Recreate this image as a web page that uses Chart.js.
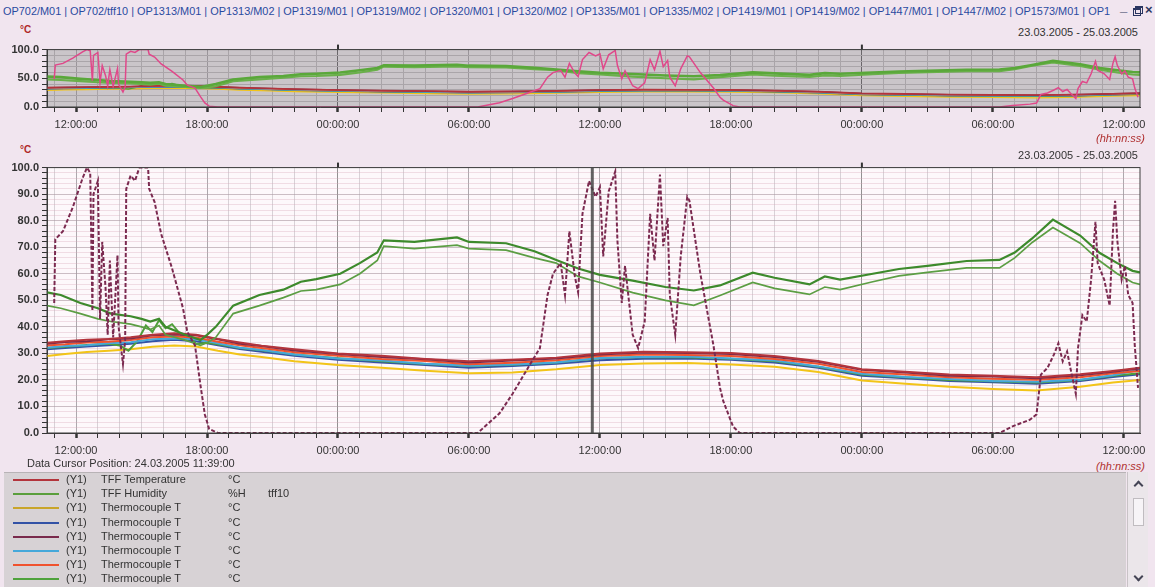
<!DOCTYPE html>
<html>
<head>
<meta charset="utf-8">
<script src="https://cdn.jsdelivr.net/npm/chart.js@4.4.1/dist/chart.umd.min.js"></script>
<style>
body { margin:0; width:1155px; height:587px; overflow:hidden; background:#f1e5ef; font-family:"Liberation Sans", Arial, sans-serif; position:relative; }
#tabs { position:absolute; left:3px; top:5px; font-size:10.5px; color:#2a4aa0; white-space:nowrap; transform-origin:0 0; }
#win { position:absolute; left:1116px; top:2px; width:38px; height:16px; color:#2a3560; font-size:13px; font-weight:bold; }
#win .min { position:absolute; left:4px; top:-3px; }
#win .rs1 { position:absolute; left:17px; top:6px; width:6px; height:5px; border:1px solid #2a3560; border-top-width:2px; }
#win .rs2 { position:absolute; left:19px; top:4px; width:6px; height:5px; border:1px solid #2a3560; border-top-width:2px; }
#win .x { position:absolute; left:29px; top:0px; }
.unit { position:absolute; left:20px; color:#b02828; font-size:10px; font-weight:bold; }
.range { position:absolute; left:1018px; width:120px; text-align:right; font-size:11px; color:#333; }
.hh { position:absolute; left:1060px; width:85px; text-align:right; font-size:11px; color:#b03030; font-style:italic; }
#cursor { position:absolute; left:27px; top:457px; font-size:11px; color:#333; }
#overview { position:absolute; left:0; top:40px; }
#main { position:absolute; left:0; top:158px; }
#legend { position:absolute; left:4px; top:472px; width:1122px; height:115px; background:#d7d2d5; border-top:1px solid #b8b3b6; }
.row { position:absolute; left:0; width:400px; height:14px; font-size:11px; color:#333; }
.row .ln { position:absolute; left:9px; top:6px; width:46px; height:2px; }
.row span { position:absolute; top:0; }
#scroll { position:absolute; left:1127px; top:472px; width:20px; height:115px; background:#ebe6ea; border-left:1px solid #c8c3c6; }
#scroll .thumb { position:absolute; left:5px; top:26px; width:9px; height:26px; background:#f7f4f7; border:1px solid #c0bcc0; }
#scroll .up, #scroll .dn { position:absolute; left:7px; width:5px; height:5px; border-left:2px solid #445; border-top:2px solid #445; }
#scroll .up { top:10px; transform:rotate(45deg); }
#scroll .dn { top:101px; transform:rotate(225deg); }
</style>
</head>
<body>
<div id="tabs"></div>
<div id="win"><span class="min">_</span><div class="rs2"></div><div class="rs1"></div><span class="x">×</span></div>

<div class="unit" style="top:24px">°C</div>
<div class="range" style="top:26px">23.03.2005 - 25.03.2005</div>
<canvas id="overview" width="1155" height="96"></canvas>
<div class="hh" style="top:132px">(hh:nn:ss)</div>

<div class="unit" style="top:144px">°C</div>
<div class="range" style="top:149px">23.03.2005 - 25.03.2005</div>
<canvas id="main" width="1155" height="300"></canvas>
<div id="cursor">Data Cursor Position: 24.03.2005 11:39:00</div>
<div class="hh" style="top:460px">(hh:nn:ss)</div>

<div id="legend"></div>
<div id="scroll"><div class="up"></div><div class="thumb"></div><div class="dn"></div></div>

<script>
// hours counted from 23.03.2005 00:00
var xMin = 10.67, xMax = 60.74;
var cursorHour = 35.65; // 24.03.2005 11:39:00

var tabNames = ['OP702/M01', 'OP702/tff10', 'OP1313/M01', 'OP1313/M02', 'OP1319/M01', 'OP1319/M02', 'OP1320/M01', 'OP1320/M02',
    'OP1335/M01', 'OP1335/M02', 'OP1419/M01', 'OP1419/M02', 'OP1447/M01', 'OP1447/M02', 'OP1573/M01', 'OP1'];

var xTickHours = [12, 18, 24, 30, 36, 42, 48, 54, 60];
var xTickLabels = ['12:00:00', '18:00:00', '00:00:00', '06:00:00', '12:00:00', '18:00:00', '00:00:00', '06:00:00', '12:00:00'];
var mainYTicks = [0, 10, 20, 30, 40, 50, 60, 70, 80, 90, 100];
var overviewYTicks = [0, 50, 100];

// temperature series share these times
var tTemp = [10.67, 11.5, 12.5, 13.5, 14.5, 15.5, 16.5, 17.5, 18.5, 19.5, 20.5, 22, 24, 26, 28, 30, 32, 34, 36, 38, 40, 42, 44, 46, 48, 50, 52, 54, 56, 58, 59.5, 60.74];
var tffTemperature = [34.0, 34.6, 35.1, 35.4, 36.1, 37.0, 37.6, 37.0, 35.4, 34.1, 32.9, 31.6, 30.0, 29.1, 27.9, 27.0, 27.6, 28.4, 30.0, 30.6, 30.4, 30.1, 29.0, 27.1, 24.0, 23.1, 22.0, 21.6, 21.0, 22.1, 23.4, 24.6];
var tcYellow = [29.0, 29.8, 30.5, 31.0, 31.6, 32.5, 33.0, 32.6, 31.0, 29.6, 28.6, 27.0, 25.6, 24.6, 23.5, 22.5, 22.8, 24.0, 25.6, 26.2, 26.4, 25.8, 25.0, 23.0, 19.8, 18.6, 17.4, 16.6, 16.0, 17.4, 19.0, 20.0];
var tcBlue = [31.6, 32.0, 32.6, 33.1, 33.6, 34.6, 35.1, 34.6, 33.1, 31.6, 30.6, 29.1, 27.6, 26.6, 25.6, 24.6, 25.2, 26.1, 27.4, 28.0, 28.1, 27.6, 26.6, 24.6, 21.6, 20.6, 19.6, 19.1, 18.6, 19.6, 21.1, 22.1];
var tcMaroon = [33.6, 34.3, 34.6, 35.3, 35.6, 36.8, 37.1, 36.8, 35.3, 33.6, 32.8, 31.1, 29.8, 28.6, 27.8, 26.6, 27.3, 28.1, 29.6, 30.3, 30.1, 29.8, 28.6, 26.8, 23.8, 22.8, 21.6, 21.3, 20.6, 21.8, 23.1, 24.3];
var tcLightBlue = [32.1, 32.8, 33.1, 33.8, 34.2, 35.3, 35.6, 35.3, 33.8, 32.1, 31.3, 29.6, 28.1, 27.3, 26.1, 25.3, 25.8, 26.6, 28.3, 28.6, 28.8, 28.1, 27.3, 25.1, 22.3, 21.1, 20.3, 19.6, 19.3, 20.1, 21.8, 23.8];
var tcOrange = [33.0, 33.4, 34.1, 34.4, 35.0, 36.1, 36.4, 36.0, 34.4, 33.1, 32.0, 30.4, 29.1, 27.9, 27.1, 25.9, 26.5, 27.4, 29.0, 29.6, 29.4, 29.0, 27.9, 26.1, 23.0, 22.0, 21.0, 20.4, 20.1, 21.0, 22.5, 23.4];

var tGreen = [10.67, 11.5, 12.5, 13.5, 14.0, 14.4, 14.8, 15.2, 15.5, 15.8, 16.1, 16.4, 16.8, 17.2, 17.5, 18.0, 18.5, 19.5, 20.5, 22, 24, 26, 28, 30, 32, 34, 36, 38, 40, 42, 44, 46, 48, 50, 52, 54, 56, 58, 59.5, 60.74];
var tcGreen = [32.0, 32.5, 33.2, 33.6, 33.0, 31.0, 34.5, 40.5, 38.0, 42.5, 39.5, 41.0, 37.0, 36.5, 33.5, 34.0, 33.4, 32.0, 31.2, 29.6, 28.2, 27.0, 26.0, 25.2, 25.7, 26.6, 28.2, 28.6, 28.5, 28.0, 27.0, 25.0, 22.0, 21.0, 20.0, 19.5, 19.0, 20.0, 21.6, 22.5];

// humidity (two sensors)
var tHum = [10.67, 11.3, 12.2, 13.0, 13.6, 14.5, 15.0, 15.4, 15.8, 16.1, 17.0, 17.7, 18.0, 18.4, 19.2, 20.4, 21.5, 22.3, 23.0, 24.1, 25.0, 25.8, 26.1, 27.5, 29.45, 30.0, 31.7, 33.0, 34.0, 35.0, 36.0, 37.5, 39.0, 40.3, 41.5, 43.0, 44.0, 45.6, 46.3, 47.0, 48.5, 49.7, 51.0, 52.8, 54.3, 55.0, 55.8, 56.75, 58.0, 58.9, 59.7, 60.4, 60.74];
var humidityA = [53, 52, 49, 47, 45, 44, 43, 42, 43, 40, 37, 35, 37, 40, 48, 52, 54, 57, 58, 60, 64, 68, 72.6, 72, 73.7, 72, 71.5, 68.5, 65.2, 62, 59.6, 57.4, 55, 53.7, 55.6, 60.4, 58.5, 56, 59, 57.8, 60, 61.8, 63, 64.8, 65.2, 68, 73.3, 80.4, 74.4, 67.8, 64, 61.1, 60.5];
var humidityB = [48, 47, 45, 43, 42, 41, 40, 39, 40.5, 37, 35, 33, 34, 36, 45, 48, 51, 53.5, 54, 56, 60, 65, 70.4, 69.5, 70.8, 69.5, 68.9, 66, 64, 59, 56.7, 52.9, 50, 48.1, 51.8, 56.7, 54.5, 52.2, 55, 54, 57, 59.2, 60.5, 62.2, 62.2, 66, 71.8, 77.4, 71.5, 64.8, 60, 56.7, 56];

// dashed series (0..100, spiky in daytime)
var tDash = [11.0, 11.05, 11.4, 11.85, 12.3, 12.5, 12.65, 12.75, 12.8, 13.0, 13.1, 13.2, 13.35, 13.45, 13.55, 13.7, 13.9, 13.95, 14.15, 14.25, 14.3, 14.5, 14.7, 14.9, 15.3, 15.35, 15.6, 15.9, 16.4, 16.9, 17.1, 17.45, 17.7, 17.9, 18.1, 18.5,
    30.4, 31.4, 32.0, 32.7, 33.25, 33.6, 33.85, 34.2, 34.4, 34.6, 34.85, 35.0, 35.2, 35.5, 35.8, 36.0, 36.15, 36.4, 36.7, 36.8, 37.0, 37.15, 37.5, 37.75, 38.05, 38.3, 38.5, 38.75, 38.9, 39.1, 39.2, 39.45, 39.7, 40.0, 40.1, 40.6, 41.2, 41.5, 41.65, 42.1, 42.4,
    54.3, 54.9, 55.7, 56.0, 56.2, 56.5, 56.8, 57.0, 57.2, 57.4, 57.55, 57.8, 57.9, 58.1, 58.3, 58.5, 58.7, 58.8, 59.1, 59.35, 59.5, 59.6, 59.7, 59.9, 60.05, 60.2, 60.4, 60.5, 60.65];
var dashValues = [49, 73, 76, 85, 96, 100, 98, 46, 90, 95, 43, 72, 55, 37, 65, 36, 67, 40, 26, 35, 92, 97, 95, 100, 100, 92, 87, 75, 62, 47, 38, 33, 18, 7, 1.5, 0,
    0, 7.4, 14.8, 24.5, 32, 52, 60, 64, 52, 76, 59, 53, 82.6, 95, 89, 92.6, 66.5, 91, 98.5, 72.6, 49, 63, 37, 32, 42, 82.6, 65, 97.4, 70.4, 81, 52, 37, 66.5, 89, 87.5, 60, 33, 17, 12, 2.4, 0,
    0, 2.5, 5, 7, 22, 24.5, 29.6, 33.8, 27, 30.7, 24.5, 14.8, 32, 44.4, 42, 57.8, 79.6, 64, 57.8, 48, 76, 87.5, 72.6, 57.8, 63, 52, 49, 33, 17];

var legendNames = ['TFF Temperature', 'TFF Humidity', 'Thermocouple T', 'Thermocouple T', 'Thermocouple T', 'Thermocouple T', 'Thermocouple T', 'Thermocouple T'];
var legendUnits = ['°C', '%H', '°C', '°C', '°C', '°C', '°C', '°C'];
var legendExtra = ['', 'tff10', '', '', '', '', '', ''];
var legendColors = ['#b3343c', '#5a9e3c', '#c9a52a', '#3352a6', '#7a2a4c', '#45a8da', '#f0522e', '#4fa23c'];

// tabs
var tabs = document.getElementById('tabs');
tabs.textContent = tabNames.join(' | ');
var tw = tabs.getBoundingClientRect().width;
tabs.style.transform = 'scaleX(' + (1107 / tw) + ')';

// legend rows
var legend = document.getElementById('legend');
for (var i = 0; i < legendNames.length; i++) {
    var row = document.createElement('div');
    row.className = 'row';
    row.style.top = (i * 14.2) + 'px';
    row.innerHTML = '<div class="ln" style="background:' + legendColors[i] + '"></div>' +
        '<span style="left:62px">(Y1)</span>' +
        '<span style="left:97px">' + legendNames[i] + '</span>' +
        '<span style="left:224px">' + legendUnits[i] + '</span>' +
        '<span style="left:264px">' + legendExtra[i] + '</span>';
    legend.appendChild(row);
}

function pts(t, v) {
    return t.map(function (x, i) { return { x: x, y: v[i] }; });
}

Chart.defaults.font.family = '"Liberation Sans", Arial, sans-serif';

var plotBg = {
    id: 'plotBg',
    beforeDraw: function (chart, args, opts) {
        var a = chart.chartArea, ctx = chart.ctx;
        ctx.save();
        ctx.fillStyle = opts.color;
        ctx.fillRect(a.left, a.top, a.right - a.left, a.bottom - a.top);
        ctx.restore();
    },
    afterDraw: function (chart, args, opts) {
        // day marks above the plot and the data cursor
        var a = chart.chartArea, ctx = chart.ctx, xs = chart.scales.x;
        ctx.save();
        ctx.strokeStyle = '#333';
        ctx.lineWidth = 2;
        [24, 48].forEach(function (h) {
            var px = xs.getPixelForValue(h);
            ctx.beginPath();
            ctx.moveTo(px, a.top - 5);
            ctx.lineTo(px, a.top);
            ctx.stroke();
        });
        ctx.strokeStyle = '#3c3c3c';
        ctx.lineWidth = 1;
        ctx.strokeRect(a.left, a.top, a.right - a.left, a.bottom - a.top);
        if (opts.cursor) {
            var cx = xs.getPixelForValue(cursorHour);
            ctx.strokeStyle = 'rgba(70,70,70,0.85)';
            ctx.lineWidth = 3;
            ctx.beginPath();
            ctx.moveTo(cx, a.top);
            ctx.lineTo(cx, a.bottom);
            ctx.stroke();
        }
        ctx.restore();
    }
};

function buildChart(id, cfg) {
    var temps = [
        { t: tTemp, v: tcYellow, c: '#f2c418' },
        { t: tTemp, v: tcBlue, c: '#3352a6' },
        { t: tGreen, v: tcGreen, c: '#4f9e3a' },
        { t: tTemp, v: tcLightBlue, c: '#45a8da' },
        { t: tTemp, v: tcOrange, c: '#f0522e' },
        { t: tTemp, v: tcMaroon, c: '#7a2a4c' },
        { t: tTemp, v: tffTemperature, c: '#b3343c' }
    ];
    var datasets = [];
    datasets.push({
        label: 'dashed', data: pts(tDash, dashValues), borderColor: cfg.dashColor, borderWidth: cfg.dashWidth,
        borderDash: cfg.dash, order: 0
    });
    datasets.push({ label: 'TFF Humidity', data: pts(tHum, humidityA), borderColor: cfg.humColorA, borderWidth: cfg.humWidth, order: 1 });
    datasets.push({ label: 'TFF Humidity 2', data: pts(tHum, humidityB), borderColor: cfg.humColorB, borderWidth: cfg.humWidth - 0.5, order: 2 });
    temps.forEach(function (s, k) {
        datasets.push({ label: 'Thermocouple T', data: pts(s.t, s.v), borderColor: s.c, borderWidth: cfg.tempWidth, order: 10 - k });
    });

    return new Chart(document.getElementById(id), {
        type: 'line',
        data: { datasets: datasets },
        plugins: [plotBg],
        options: {
            responsive: false,
            animation: false,
            elements: { point: { radius: 0 }, line: { tension: 0 } },
            layout: { padding: { top: 5, right: 15, left: 0, bottom: 0 } },
            plugins: {
                legend: { display: false },
                tooltip: { enabled: false },
                plotBg: { color: cfg.bg, cursor: cfg.cursor }
            },
            scales: {
                x: {
                    type: 'linear',
                    min: xMin,
                    max: xMax,
                    afterFit: function (s) { s.height = cfg.xHeight; },
                    ticks: {
                        stepSize: 1,
                        autoSkip: false,
                        maxRotation: 0,
                        includeBounds: false,
                        padding: 6,
                        color: '#333',
                        font: { size: 11 },
                        callback: function (v) {
                            var idx = xTickHours.indexOf(Math.round(v));
                            return idx >= 0 && Math.abs(v - Math.round(v)) < 0.01 ? xTickLabels[idx] : '';
                        }
                    },
                    grid: {
                        color: function (c) {
                            if (!c.tick) return cfg.vGrid;
                            var v = Math.round(c.tick.value);
                            if (v % 24 === 0) return cfg.vGridDay;
                            if (v % 6 === 0) return cfg.vGridMajor;
                            return cfg.vGrid;
                        },
                        tickLength: 5,
                        tickColor: '#333',
                        tickWidth: function (c) {
                            return c.tick && Math.round(c.tick.value) % 6 === 0 ? 2.5 : 1;
                        }
                    },
                    border: { color: '#3c3c3c', width: 1 }
                },
                y: {
                    min: 0,
                    max: 100,
                    afterFit: function (s) { s.width = 47; },
                    ticks: {
                        stepSize: cfg.yStep,
                        autoSkip: false,
                        padding: 3,
                        color: '#333',
                        font: { size: 11, weight: 'bold' },
                        callback: function (v) {
                            return cfg.yLabels.indexOf(v) >= 0 ? v.toFixed(1) : '';
                        }
                    },
                    grid: {
                        color: function (c) {
                            if (!c.tick) return cfg.hGrid;
                            return c.tick.value % 10 === 0 ? cfg.hGridMajor : cfg.hGrid;
                        },
                        tickLength: 5,
                        tickColor: '#333'
                    },
                    border: { color: '#3c3c3c', width: 1 }
                }
            }
        }
    });
}

buildChart('overview', {
    bg: '#cac5c9', cursor: false, xHeight: 29, yStep: 10, yLabels: overviewYTicks,
    vGrid: '#a9a4a8', vGridMajor: '#9a959a', vGridDay: '#6a666a',
    hGrid: '#aaa5a9', hGridMajor: '#aaa5a9',
    dashColor: '#e0488a', dashWidth: 1.5, dash: [],
    humColorA: '#5aa83a', humColorB: '#6ab04a', humWidth: 2.6, tempWidth: 1.3
});

buildChart('main', {
    bg: '#fdf8fb', cursor: true, xHeight: 25, yStep: 2, yLabels: mainYTicks,
    vGrid: 'rgba(170,165,170,0.45)', vGridMajor: 'rgba(130,125,130,0.65)', vGridDay: 'rgba(110,110,110,0.75)',
    hGrid: 'rgba(215,170,185,0.35)', hGridMajor: 'rgba(170,150,160,0.6)',
    dashColor: '#7b2a50', dashWidth: 2, dash: [4, 2],
    humColorA: '#3d8a2c', humColorB: '#5c9e44', humWidth: 2.2, tempWidth: 2
});
</script>
</body>
</html>
